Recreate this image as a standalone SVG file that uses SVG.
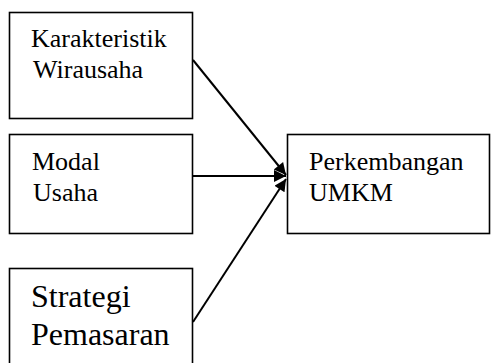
<svg xmlns="http://www.w3.org/2000/svg" width="491" height="363" viewBox="0 0 491 363">
<defs>
<style>
.box{fill:#fff;stroke:#000;stroke-width:1.6}
.t{font-family:"Liberation Serif","Times New Roman",serif;font-size:26px;fill:#000}
.tb{font-family:"Liberation Serif","Times New Roman",serif;font-size:32px;fill:#000}
.c{stroke:#000;stroke-width:2;fill:none;marker-end:url(#ah)}
</style>
<marker id="ah" viewBox="0 0 10 10" refX="10" refY="5" markerWidth="7" markerHeight="6" orient="auto" markerUnits="strokeWidth">
<path d="M0,0 L10,5 L0,10 z" fill="#000"/>
</marker>
</defs>
<rect width="491" height="363" fill="#fff"/>
<g id="n1">
<rect class="box" x="9.5" y="12.5" width="183" height="106"/>
<text class="t" x="31" y="47">Karakteristik</text>
<text class="t" x="33" y="78">Wirausaha</text>
</g>
<g id="n2">
<rect class="box" x="9.5" y="134.5" width="183" height="99"/>
<text class="t" x="32" y="170">Modal</text>
<text class="t" x="33" y="201">Usaha</text>
</g>
<g id="n3">
<rect class="box" x="9.5" y="268.5" width="183" height="100"/>
<text class="tb" x="31" y="307">Strategi</text>
<text class="tb" x="31" y="345">Pemasaran</text>
</g>
<g id="n4">
<rect class="box" x="287.5" y="134.5" width="202" height="99"/>
<text class="t" x="309" y="170">Perkembangan</text>
<text class="t" x="309" y="201">UMKM</text>
</g>
<g id="connectors">
<line class="c" x1="193" y1="60" x2="286" y2="175"/>
<line class="c" x1="193" y1="176" x2="286" y2="176"/>
<line class="c" x1="193" y1="322" x2="286" y2="179"/>
</g>
</svg>
